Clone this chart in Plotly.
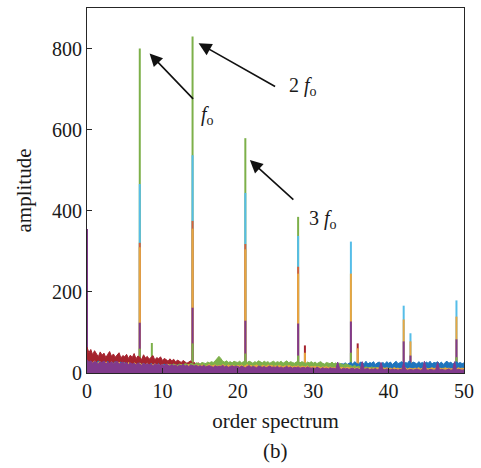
import plotly.graph_objects as go

# ---------------- data ----------------
order = [i * 0.25 for i in range(201)]  # order-spectrum sample positions 0..50

darkred_noise = [
    64, 50, 58, 45, 55, 47, 40, 52, 44, 49, 38, 46, 53, 41, 47, 39, 45, 50, 37, 43,
    40, 46, 36, 44, 38, 48, 35, 42, 39, 33, 45, 37, 41, 34, 39, 43, 32, 38, 35, 40,
    31, 36, 33, 29, 35, 30, 34, 27, 32, 29, 26, 31, 28, 24, 27, 30, 23, 26, 22, 25,
    21, 24, 20, 23, 19, 22, 20, 18, 21, 19, 17, 20, 18, 22, 17, 19, 16, 18, 20, 17,
    18, 16, 19, 15, 17, 20, 16, 18, 15, 17, 14, 16, 18, 15, 13, 16, 14, 17, 15, 13,
    15, 13, 16, 14, 12, 15, 13, 14, 12, 15, 13, 11, 14, 12, 13, 11, 14, 12, 10, 13,
    12, 10, 13, 11, 12, 10, 11, 13, 10, 12, 9, 11, 10, 12, 9, 11, 10, 9, 11, 10,
    9, 11, 10, 8, 10, 9, 11, 8, 10, 9, 8, 10, 9, 8, 10, 9, 8, 9, 10, 8,
    9, 8, 10, 7, 9, 8, 9, 7, 8, 9, 7, 8, 9, 8, 7, 9, 8, 7, 8, 9,
    7, 8, 9, 7, 8, 7, 9, 8, 7, 8, 7, 9, 8, 7, 8, 7, 8, 9, 7, 8,
    8]
blue_noise = [
    31, 25, 29, 22, 28, 24, 30, 21, 27, 25, 23, 29, 22, 26, 24, 28, 21, 25, 27, 22,
    26, 21, 25, 23, 20, 24, 22, 19, 25, 21, 23, 20, 22, 18, 24, 20, 21, 19, 23, 18,
    20, 22, 17, 21, 19, 18, 22, 16, 20, 18, 17, 21, 16, 19, 18, 15, 20, 17, 19, 16,
    18, 15, 19, 17, 14, 18, 16, 20, 15, 17, 19, 14, 18, 16, 17, 15, 19, 16, 14, 18,
    16, 19, 15, 17, 20, 14, 18, 16, 19, 15, 17, 21, 16, 18, 15, 19, 17, 14, 18, 16,
    17, 20, 15, 18, 16, 21, 17, 19, 15, 18, 20, 16, 19, 17, 15, 18, 21, 16, 19, 17,
    18, 21, 17, 20, 19, 22, 18, 21, 20, 23, 19, 22, 21, 24, 20, 23, 22, 25, 21, 24,
    26, 22, 28, 24, 21, 27, 25, 23, 29, 22, 26, 24, 28, 21, 25, 27, 23, 26, 22, 28,
    24, 27, 21, 26, 29, 23, 25, 28, 22, 26, 24, 30, 23, 27, 25, 22, 28, 24, 26, 23,
    27, 24, 29, 22, 26, 25, 28, 23, 27, 21, 26, 29, 24, 27, 22, 25, 28, 24, 26, 23,
    25]
green_noise = [
    21, 16, 19, 15, 18, 14, 17, 16, 13, 18, 15, 17, 14, 16, 19, 15, 17, 13, 16, 15,
    17, 14, 16, 18, 15, 17, 14, 16, 19, 15, 17, 16, 18, 15, 17, 19, 16, 18, 20, 17,
    19, 17, 20, 18, 21, 19, 22, 20, 18, 22, 21, 19, 23, 21, 20, 24, 22, 21, 25, 23,
    22, 26, 24, 23, 27, 25, 28, 26, 30, 35, 41, 36, 29, 27, 30, 26, 28, 25, 29, 27,
    26, 29, 25, 28, 30, 26, 29, 27, 24, 28, 26, 30, 27, 25, 29, 26, 28, 24, 27, 29,
    25, 28, 26, 29, 24, 27, 30, 25, 28, 26, 24, 27, 29, 25, 28, 26, 23, 27, 25, 28,
    24, 27, 23, 26, 28, 24, 22, 26, 25, 23, 27, 22, 25, 21, 24, 22, 20, 23, 21, 19,
    18, 16, 19, 15, 17, 14, 16, 13, 15, 14, 12, 15, 13, 14, 12, 13, 11, 13, 12, 11,
    12, 10, 11, 13, 10, 12, 9, 11, 10, 12, 9, 11, 10, 9, 11, 10, 12, 9, 10, 11,
    9, 11, 10, 12, 9, 10, 11, 9, 10, 12, 9, 11, 10, 9, 11, 10, 9, 11, 10, 9,
    10]
yellow_noise = [
    29, 23, 27, 25, 30, 22, 26, 28, 24, 21, 27, 25, 23, 28, 22, 26, 24, 27, 21, 25,
    24, 21, 26, 22, 20, 25, 23, 19, 24, 21, 22, 20, 24, 18, 22, 20, 23, 19, 21, 18,
    21, 18, 20, 22, 17, 20, 18, 21, 17, 19, 20, 16, 19, 18, 21, 17, 19, 16, 20, 18,
    17, 20, 18, 16, 19, 21, 17, 18, 20, 16, 19, 17, 21, 18, 16, 20, 17, 19, 18, 16,
    19, 17, 20, 16, 18, 21, 17, 19, 16, 18, 20, 17, 15, 19, 18, 16, 20, 17, 19, 16,
    18, 16, 19, 17, 15, 18, 16, 19, 17, 15, 17, 16, 18, 14, 17, 16, 15, 18, 14, 16,
    15, 17, 14, 16, 13, 15, 14, 16, 13, 15, 12, 14, 13, 15, 12, 14, 13, 12, 14, 13,
    12, 13, 11, 13, 12, 10, 13, 11, 12, 11, 13, 10, 12, 11, 13, 12, 10, 12, 11, 13,
    11, 12, 10, 13, 11, 12, 10, 12, 11, 13, 10, 12, 11, 10, 12, 11, 13, 10, 12, 11,
    12, 10, 11, 13, 11, 12, 10, 12, 11, 10, 13, 11, 12, 10, 11, 12, 10, 13, 11, 12,
    11]
purple_noise = [
    33, 26, 30, 24, 29, 27, 23, 28, 25, 30, 22, 27, 24, 28, 23, 26, 29, 22, 25, 27,
    23, 26, 21, 25, 22, 24, 20, 25, 22, 19, 24, 21, 23, 20, 22, 18, 23, 20, 21, 19,
    21, 18, 22, 19, 17, 21, 18, 20, 16, 19, 18, 21, 17, 19, 16, 20, 18, 17, 19, 16,
    18, 16, 19, 15, 17, 18, 16, 14, 18, 15, 17, 16, 19, 15, 17, 14, 16, 18, 15, 17,
    16, 14, 17, 15, 13, 16, 18, 14, 16, 15, 13, 17, 15, 14, 16, 13, 15, 17, 14, 15,
    14, 16, 13, 15, 12, 14, 16, 13, 15, 12, 14, 13, 15, 12, 13, 14, 12, 15, 13, 12,
    13, 11, 14, 12, 10, 13, 11, 12, 10, 13, 11, 12, 10, 27, 11, 9, 12, 10, 11, 9,
    10, 12, 9, 11, 10, 8, 28, 9, 10, 11, 8, 10, 9, 11, 8, 10, 26, 9, 8, 10,
    9, 8, 10, 8, 9, 7, 9, 8, 27, 9, 7, 8, 9, 7, 8, 10, 8, 7, 9, 29,
    8, 7, 9, 8, 7, 8, 26, 7, 9, 8, 7, 8, 10, 7, 8, 28, 7, 9, 8, 7,
    8]

# spectral peaks (order, amplitude) per series
green_peak_x = [7, 8.6, 14, 21, 28]
green_peak_y = [800, 74, 830, 579, 385]
lightblue_peak_x = [7, 14, 21, 28, 35, 42, 42.9, 49]
lightblue_peak_y = [466, 537, 444, 338, 324, 166, 98, 179]
blue_peak_x = [0]
blue_peak_y = [260]
darkred_peak_x = [28.9, 35.9]
darkred_peak_y = [68, 73]
orange_peak_x = [0, 7, 14, 21, 28]
orange_peak_y = [240, 321, 375, 318, 262]
yellow_peak_x = [7, 14, 21, 28, 28.9, 35, 35.9, 42, 42.9, 49]
yellow_peak_y = [310, 356, 305, 245, 50, 245, 61, 132, 78, 139]
purple_peak_x = [0, 7, 14, 21, 28, 35, 42, 42.9, 49]
purple_peak_y = [355, 124, 161, 129, 122, 127, 78, 43, 83]
green_low_x = [7, 14, 21, 28, 35, 49]
green_low_y = [60, 73, 48, 43, 50, 39]

# annotation labels
label_texts = ["<i>f</i><sub>o</sub>", "2 <i>f</i><sub>o</sub>", "3 <i>f</i><sub>o</sub>"]
label_x = [16.0, 28.6, 31.3]
label_y = [634, 707, 378]
arrow_head_x = [8.3, 14.8, 21.6]
arrow_head_y = [788, 813, 525]
arrow_tail_dx = [45, 78, 45]
arrow_tail_dy = [47, 44, 41]

# ---------------- styles ----------------
C_BLUE = "#1f74bd"
C_ORANGE = "#d9623a"
C_YELLOW = "#e8a640"
C_PURPLE = "#813a8c"
C_GREEN = "#7db04a"
C_LBLUE = "#55bde8"
C_DRED = "#a5232e"
FONT = "Liberation Serif, Times New Roman, serif"


def stems(xs, ys):
    sx, sy = [], []
    for x, y in zip(xs, ys):
        sx += [x, x, None]
        sy += [0, y, None]
    return sx, sy


fig = go.Figure()

peak_layers = [
    (green_peak_x, green_peak_y, C_GREEN),
    (lightblue_peak_x, lightblue_peak_y, C_LBLUE),
    (blue_peak_x, blue_peak_y, C_BLUE),
    (darkred_peak_x, darkred_peak_y, C_DRED),
    (orange_peak_x, orange_peak_y, C_ORANGE),
    (yellow_peak_x, yellow_peak_y, C_YELLOW),
    (purple_peak_x, purple_peak_y, C_PURPLE),
    (green_low_x, green_low_y, C_GREEN),
]
for xs, ys, col in peak_layers:
    sx, sy = stems(xs, ys)
    fig.add_trace(go.Scatter(x=sx, y=sy, mode="lines",
                             line=dict(color=col, width=2),
                             hoverinfo="skip", showlegend=False))

noise_layers = [
    (darkred_noise, C_DRED),
    (blue_noise, C_BLUE),
    (green_noise, C_GREEN),
    (yellow_noise, C_YELLOW),
    (purple_noise, C_PURPLE),
]
for ys, col in noise_layers:
    fig.add_trace(go.Scatter(x=order, y=ys, mode="lines", fill="tozeroy",
                             fillcolor=col, line=dict(color=col, width=1),
                             hoverinfo="skip", showlegend=False))

annotations = []
for hx, hy, dx, dy in zip(arrow_head_x, arrow_head_y, arrow_tail_dx, arrow_tail_dy):
    annotations.append(dict(x=hx, y=hy, xref="x", yref="y", text="",
                            showarrow=True, ax=dx, ay=dy,
                            arrowhead=2, arrowsize=1.6, arrowwidth=1.6,
                            arrowcolor="#111111"))
for t, tx, ty in zip(label_texts, label_x, label_y):
    annotations.append(dict(x=tx, y=ty, xref="x", yref="y", text=t,
                            showarrow=False, font=dict(family=FONT, size=20, color="#1a1a1a")))
annotations.append(dict(x=0.5, y=-0.215, xref="paper", yref="paper", text="(b)",
                        showarrow=False, yanchor="middle",
                        font=dict(family=FONT, size=21, color="#1a1a1a")))

axis_common = dict(showgrid=False, zeroline=False, showline=True, mirror=True,
                   linecolor="#262626", linewidth=1, ticks="inside", ticklen=5,
                   tickwidth=1, tickcolor="#262626",
                   tickfont=dict(family=FONT, size=20, color="#1a1a1a"))

fig.update_layout(
    width=481, height=468,
    margin=dict(l=87, r=15, t=7, b=95),
    paper_bgcolor="white", plot_bgcolor="white",
    xaxis=dict(range=[0, 50], tickvals=[0, 10, 20, 30, 40, 50],
               title=dict(text="order spectrum", standoff=12,
                          font=dict(family=FONT, size=21, color="#1a1a1a")),
               **axis_common),
    yaxis=dict(range=[0, 900], tickvals=[0, 200, 400, 600, 800],
               title=dict(text="amplitude", standoff=14,
                          font=dict(family=FONT, size=21, color="#1a1a1a")),
               **axis_common),
    annotations=annotations,
    showlegend=False,
)

fig.write_html("out.html")
